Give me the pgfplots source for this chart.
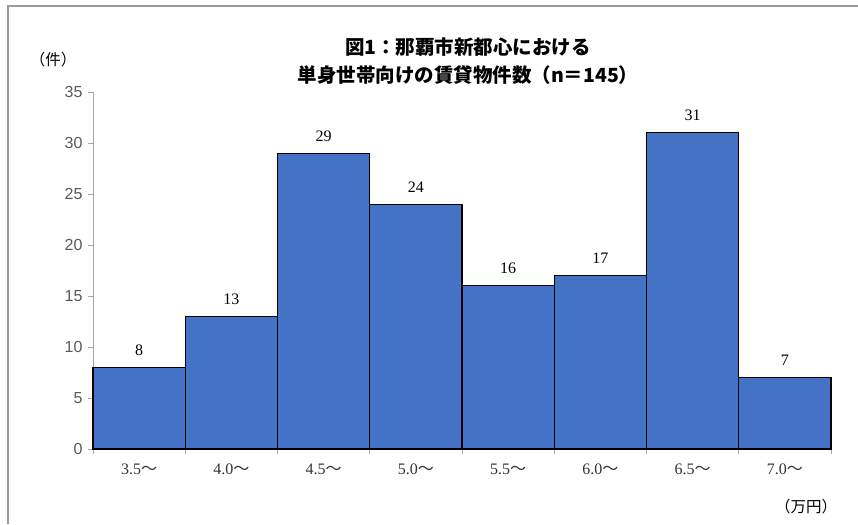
\documentclass[border=0pt]{standalone}
\usepackage{pgfplots}
\pgfplotsset{compat=1.18}
\usepackage{fontspec}
\setmainfont{Liberation Serif}
\setsansfont{Liberation Sans}
\newfontfamily\cjk{Noto Sans CJK JP}
\definecolor{barblue}{HTML}{4472C4}
\definecolor{axgray}{HTML}{A6A6A6}
\definecolor{framegray}{HTML}{9A9A9A}
\definecolor{txtgray}{HTML}{595959}
\newcommand{\tl}[1]{#1{\cjk ～}}
\begin{document}
\begin{tikzpicture}[x=1pt,y=1pt]
\path[use as bounding box] (0,0) rectangle (858,524);
\draw[color=framegray, line width=1.3pt] (8,0) -- (8,518) -- (858,518);
\node[font=\cjk\bfseries\fontsize{19.5}{19.5}\selectfont] at (468,477) {図1：那覇市新都心における};
\node[font=\cjk\bfseries\fontsize{19.5}{19.5}\selectfont] at (468,449) {単身世帯向けの賃貸物件数（n＝145）};
\node[font=\cjk\fontsize{15.5}{15.5}\selectfont] at (53,464) {（件）};
\node[font=\cjk\fontsize{15.5}{15.5}\selectfont] at (806,17) {（万円）};
\begin{axis}[
  at={(93pt,75pt)}, anchor=south west,
  scale only axis, width=738pt, height=357pt,
  xmin=0, xmax=8, ymin=0, ymax=35,
  /pgf/number format/assume math mode=true,
  axis x line*=bottom, axis y line*=left,
  axis line style={draw=axgray, line width=1pt, -},
  xtick={0,1,...,8}, xticklabels={},
  ytick={0,5,...,35},
  tick style={draw=axgray, line width=0.8pt},
  tick align=outside, major tick length=5pt,
  y tick label style={font=\sffamily\fontsize{16}{16}\selectfont, text=txtgray, xshift=-2pt},
  extra x ticks={0.5,1.5,...,7.5},
  extra x tick labels={\tl{3.5},\tl{4.0},\tl{4.5},\tl{5.0},\tl{5.5},\tl{6.0},\tl{6.5},\tl{7.0}},
  extra x tick style={major tick length=0pt, tick label style={font=\fontsize{16}{16}\selectfont, text=black!80, yshift=-11pt}},
  ybar, bar width=1,
  nodes near coords,
  every node near coord/.append style={font=\fontsize{16}{16}\selectfont, text=black, yshift=8pt},
  clip=false,
]
\addplot[fill=barblue, draw=black, line width=1.1pt] coordinates {
(0.5,8) (1.5,13) (2.5,29) (3.5,24) (4.5,16) (5.5,17) (6.5,31) (7.5,7)};
\end{axis}
\end{tikzpicture}
\end{document}
